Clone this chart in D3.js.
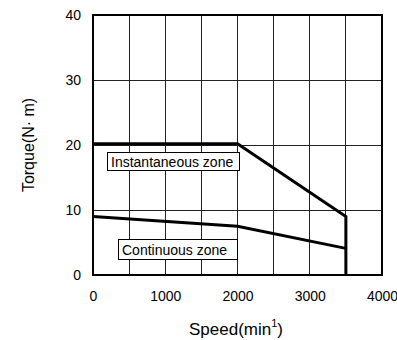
<!DOCTYPE html>
<html><head><meta charset="utf-8">
<script src="https://cdn.jsdelivr.net/npm/d3@7"></script>
<style>body{margin:0;background:#fff}svg{display:block}text{font-family:"Liberation Sans",Arial,sans-serif}</style>
</head><body><svg id="c" width="397" height="340"></svg>
<script>
const xTicks = [0, 1000, 2000, 3000, 4000];
const yTicks = [0, 10, 20, 30, 40];
const xGrid = [500, 1000, 1500, 2000, 2500, 3000, 3500];
const yGrid = [10, 20, 30];
const instSpeed = [0, 2000, 3500, 3500];
const instTorque = [20.2, 20.2, 9, 0];
const contSpeed = [0, 2000, 3500];
const contTorque = [9, 7.5, 4.1];
const zoneLabels = ["Instantaneous zone", "Continuous zone"];

const svg = d3.select("#c");
const x = d3.scaleLinear().domain([0, 4000]).range([93, 382]);
const y = d3.scaleLinear().domain([0, 40]).range([275, 15]);

const g = svg.append("g");
g.selectAll(".vg").data(xGrid).join("line")
  .attr("x1", d => x(d)).attr("x2", d => x(d)).attr("y1", y(0)).attr("y2", y(40))
  .attr("stroke", "#222").attr("stroke-width", 1).attr("shape-rendering", "crispEdges");
g.selectAll(".hg").data(yGrid).join("line")
  .attr("x1", x(0)).attr("x2", x(4000)).attr("y1", d => y(d)).attr("y2", d => y(d))
  .attr("stroke", "#222").attr("stroke-width", 1).attr("shape-rendering", "crispEdges");
g.append("rect").attr("x", x(0)).attr("y", y(40)).attr("width", x(4000) - x(0)).attr("height", y(0) - y(40))
  .attr("fill", "none").attr("stroke", "#000").attr("stroke-width", 1.5).attr("shape-rendering", "crispEdges");

const xAxis = svg.append("g").attr("transform", `translate(0,${y(0)})`)
  .call(d3.axisBottom(x).tickValues(xTicks).tickSize(0).tickPadding(16).tickFormat(d3.format("d")));
xAxis.select(".domain").remove();
xAxis.selectAll("text").attr("font-size", 14).attr("fill", "#000");
const yAxis = svg.append("g").attr("transform", `translate(${x(0)},0)`)
  .call(d3.axisLeft(y).tickValues(yTicks).tickSize(0).tickPadding(12));
yAxis.select(".domain").remove();
yAxis.selectAll("text").attr("font-size", 14).attr("fill", "#000");

const line = d3.line().x(d => x(d[0])).y(d => y(d[1]));
svg.append("path").datum(instSpeed.map((s, i) => [s, instTorque[i]]))
  .attr("d", line).attr("fill", "none").attr("stroke", "#000").attr("stroke-width", 3);
svg.append("path").datum(contSpeed.map((s, i) => [s, contTorque[i]]))
  .attr("d", line).attr("fill", "none").attr("stroke", "#000").attr("stroke-width", 3);

const boxes = [
  {t: zoneLabels[0], x0: 107, y0: 152, w: 132, h: 18},
  {t: zoneLabels[1], x0: 118, y0: 239, w: 119, h: 20}
];
boxes.forEach(b => {
  svg.append("rect").attr("x", b.x0 + 0.5).attr("y", b.y0 + 0.5).attr("width", b.w).attr("height", b.h)
    .attr("fill", "#fff").attr("stroke", "#000").attr("stroke-width", 1);
  svg.append("text").attr("x", b.x0 + 4).attr("y", b.y0 + b.h / 2 + 1).attr("dy", "0.35em")
    .attr("font-size", 14).text(b.t);
});

svg.append("text").attr("transform", "translate(34,145) rotate(-90)").attr("text-anchor", "middle")
  .attr("font-size", 16).text("Torque(N\u00b7 m)");
const xt = svg.append("text").attr("x", 236).attr("y", 335).attr("text-anchor", "middle").attr("font-size", 17);
xt.append("tspan").text("Speed(min");
xt.append("tspan").attr("font-size", 11).attr("dy", -8).text("1");
xt.append("tspan").attr("dy", 8).text(")");
</script></body></html>
